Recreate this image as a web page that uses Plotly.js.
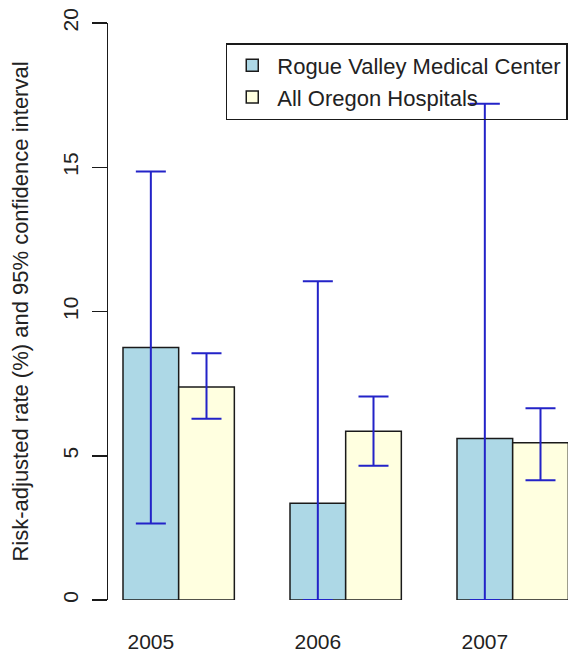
<!DOCTYPE html>
<html>
<head>
<meta charset="utf-8">
<script src="https://cdn.plot.ly/plotly-3.0.1.min.js"></script>
<style>
html,body{margin:0;padding:0;background:#fff;}
#chart{width:568px;height:654px;}
</style>
</head>
<body>
<div id="chart"></div>
<script>
// Data
const years = ['2005', '2006', '2007'];
const seriesNames = ['Rogue Valley Medical Center', 'All Oregon Hospitals'];
const rvmcRate = [8.75, 3.35, 5.6];
const rvmcLower = [2.65, 0.0, 0.0];
const rvmcUpper = [14.85, 11.05, 17.2];
const orRate = [7.38, 5.85, 5.45];
const orLower = [6.28, 4.65, 4.15];
const orUpper = [8.55, 7.05, 6.65];

// Bar positions (R barplot style: two bars per group, one bar-width gap between groups)
const rvmcPos = years.map((_, i) => 1.5 + 3 * i);
const orPos = years.map((_, i) => 2.5 + 3 * i);

const font = 'Liberation Sans, Arial, Helvetica, sans-serif';
const errColor = '#2323c8';

const traces = [
  {
    type: 'bar', name: seriesNames[0], x: rvmcPos, y: rvmcRate, width: 1,
    marker: {color: '#add8e6', line: {color: '#1a1a1a', width: 1.5}},
    error_y: {type: 'data', symmetric: false,
      array: rvmcRate.map((v, i) => rvmcUpper[i] - v),
      arrayminus: rvmcRate.map((v, i) => v - rvmcLower[i]),
      color: errColor, thickness: 2, width: 15},
    hoverinfo: 'none'
  },
  {
    type: 'bar', name: seriesNames[1], x: orPos, y: orRate, width: 1,
    marker: {color: '#ffffe0', line: {color: '#1a1a1a', width: 1.5}},
    error_y: {type: 'data', symmetric: false,
      array: orRate.map((v, i) => orUpper[i] - v),
      arrayminus: orRate.map((v, i) => v - orLower[i]),
      color: errColor, thickness: 2, width: 15},
    hoverinfo: 'none'
  }
];

const layout = {
  width: 568, height: 654,
  margin: {l: 108, r: 0, t: 23, b: 54, pad: 0},
  paper_bgcolor: '#fff', plot_bgcolor: '#fff',
  font: {family: font, size: 21, color: '#222'},
  showlegend: true,
  barmode: 'group', bargap: 0, bargroupgap: 0,
  xaxis: {
    range: [0.7305, 8.994], showgrid: false, zeroline: false, showline: false,
    tickmode: 'array', tickvals: rvmcPos, ticktext: years,
    ticks: '', ticklabelstandoff: 27,
    tickfont: {family: font, size: 21, color: '#222'}
  },
  yaxis: {
    range: [0, 20], showgrid: false, zeroline: false,
    showline: true, linecolor: '#1a1a1a', linewidth: 1.5,
    ticks: 'outside', ticklen: 15, tickwidth: 1.5, tickcolor: '#1a1a1a',
    tickvals: [0, 5, 10, 15, 20], tickangle: -90, ticklabelstandoff: 5,
    tickfont: {family: font, size: 21, color: '#222'},
    title: {text: 'Risk-adjusted rate (%) and 95% confidence interval',
      font: {family: font, size: 22, color: '#222'}, standoff: 24}
  },
  legend: {
    x: 0.256, y: 0.9653, xanchor: 'left', yanchor: 'top',
    bordercolor: '#1a1a1a', borderwidth: 1.5, bgcolor: 'rgba(255,255,255,0)',
    font: {family: font, size: 22, color: '#222'},
    itemwidth: 40, tracegroupgap: 0, traceorder: 'normal'
  }
};

Plotly.newPlot('chart', traces, layout, {staticPlot: true, displayModeBar: false});
</script>
</body>
</html>
